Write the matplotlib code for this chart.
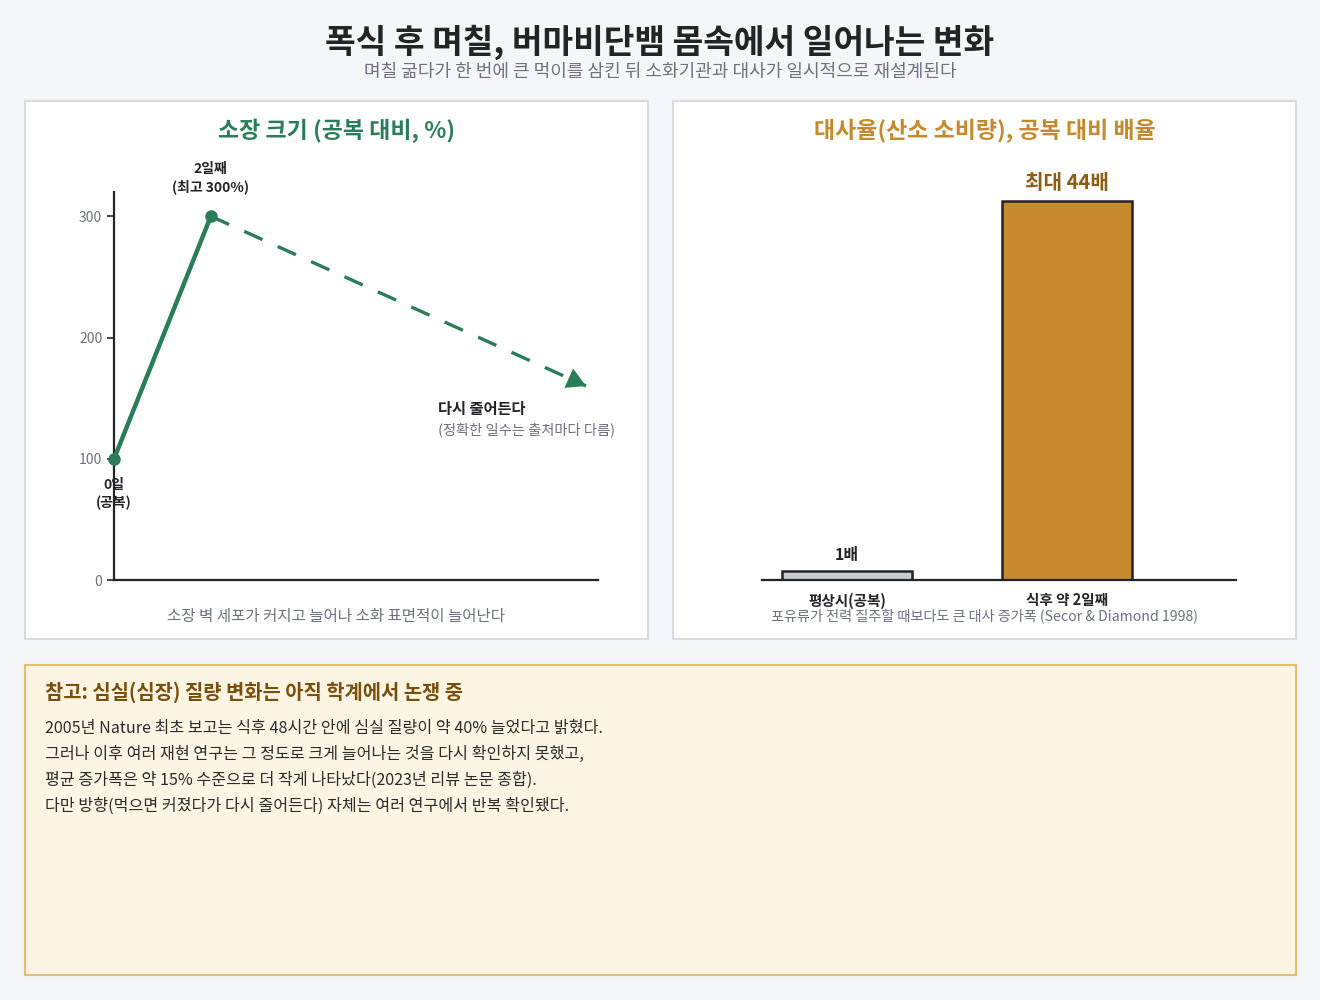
import matplotlib
matplotlib.use('Agg')
import matplotlib.pyplot as plt
from matplotlib.patches import Rectangle

plt.rcParams['font.family'] = ['Noto Sans CJK KR', 'DejaVu Sans']

# data
days = [0, 2]
size_pct = [100, 300]
shrink_days = [2, 9.75]
shrink_pct = [300, 160]
size_ticks = [0, 100, 200, 300]

metab_labels = ['평상시(공복)', '식후 약 2일째']
metab_values = [1, 44]
metab_texts = ['1배', '최대 44배']

note_title = '참고: 심실(심장) 질량 변화는 아직 학계에서 논쟁 중'
note_lines = [
    '2005년 Nature 최초 보고는 식후 48시간 안에 심실 질량이 약 40% 늘었다고 밝혔다.',
    '그러나 이후 여러 재현 연구는 그 정도로 크게 늘어나는 것을 다시 확인하지 못했고,',
    '평균 증가폭은 약 15% 수준으로 더 작게 나타났다(2023년 리뷰 논문 종합).',
    '다만 방향(먹으면 커졌다가 다시 줄어든다) 자체는 여러 연구에서 반복 확인됐다.',
]

GREEN = '#2b7d58'
GOLD = '#c48a2b'
DARK = '#222428'
GRAY = '#6b7280'
BG = '#f5f6f8'

fig = plt.figure(figsize=(13.2, 10), dpi=100, facecolor=BG)

# panel boxes (behind the axes)
fig.patches.append(Rectangle((0.0189, 0.361), 0.472, 0.538, transform=fig.transFigure,
                             facecolor='white', edgecolor='#d9dde3', lw=1.5, zorder=-1))
fig.patches.append(Rectangle((0.5098, 0.361), 0.472, 0.538, transform=fig.transFigure,
                             facecolor='white', edgecolor='#d9dde3', lw=1.5, zorder=-1))
fig.patches.append(Rectangle((0.0189, 0.025), 0.963, 0.31, transform=fig.transFigure,
                             facecolor='#fdf5e4', edgecolor='#e2bd72', lw=1.5, zorder=-1))

fig.text(0.5, 0.958, '폭식 후 며칠, 버마비단뱀 몸속에서 일어나는 변화', ha='center', va='center',
         fontsize=24, fontweight='bold', color=DARK)
fig.text(0.5, 0.928, '며칠 굶다가 한 번에 큰 먹이를 삼킨 뒤 소화기관과 대사가 일시적으로 재설계된다',
         ha='center', va='center', fontsize=13, color=GRAY)

# left: gut size
ax1 = fig.add_axes([0.0864, 0.42, 0.3667, 0.388])
ax1.set_facecolor('none')
ax1.plot(days, size_pct, color=GREEN, lw=3.2, marker='o', ms=8, clip_on=False, zorder=3)
# dashed shrink line, then a solid filled head at its end
ax1.plot(shrink_days, shrink_pct, color=GREEN, lw=2.4, ls=(0, (6, 5)), zorder=2)
ax1.annotate('', xy=(shrink_days[1], shrink_pct[1]), xytext=(shrink_days[0], shrink_pct[0]),
             arrowprops=dict(arrowstyle='-|>,head_length=0.8,head_width=0.45', color=GREEN,
                             lw=0.01, mutation_scale=17, shrinkA=0, shrinkB=0), zorder=3)
ax1.set_xlim(0, 10)
ax1.set_ylim(0, 320)
ax1.set_xticks([])
ax1.set_yticks(size_ticks)
ax1.tick_params(axis='y', labelsize=10, labelcolor=GRAY, color=DARK, length=5, width=1.2)
for s in ['top', 'right']:
    ax1.spines[s].set_visible(False)
for s in ['left', 'bottom']:
    ax1.spines[s].set_color(DARK)
    ax1.spines[s].set_linewidth(1.6)

ax1.annotate('2일째\n(최고 300%)', xy=(days[1], size_pct[1]), xytext=(0, 16),
             textcoords='offset points', ha='center', va='bottom', fontsize=10,
             fontweight='bold', color=DARK, linespacing=1.3)
ax1.annotate('0일\n(공복)', xy=(days[0], size_pct[0]), xytext=(0, -14),
             textcoords='offset points', ha='center', va='top', fontsize=10,
             fontweight='bold', color=DARK, linespacing=1.3)
ax1.text(6.7, 141, '다시 줄어든다', ha='left', va='center', fontsize=11, fontweight='bold', color=DARK)
ax1.text(6.7, 124, '(정확한 일수는 출처마다 다름)', ha='left', va='center', fontsize=10.3, color=GRAY)

fig.text(0.2549, 0.869, '소장 크기 (공복 대비, %)', ha='center', va='center',
         fontsize=16.5, fontweight='bold', color=GREEN)
fig.text(0.2549, 0.384, '소장 벽 세포가 커지고 늘어나 소화 표면적이 늘어난다', ha='center',
         va='center', fontsize=11.2, color=GRAY)

# right: metabolic rate
ax2 = fig.add_axes([0.5773, 0.42, 0.3591, 0.388])
ax2.set_facecolor('none')
xpos = list(range(len(metab_values)))
ax2.bar(xpos, metab_values, width=0.59, color=['#c8ccd4', GOLD],
        edgecolor=DARK, linewidth=1.8, zorder=2)
ax2.set_xlim(-0.386, 1.768)
ax2.set_ylim(0, 45.05)
ax2.set_yticks([])
ax2.set_xticks(xpos, metab_labels)
ax2.tick_params(axis='x', length=0, pad=9)
for lab in ax2.get_xticklabels():
    lab.set_fontweight('bold')
    lab.set_fontsize(10.5)
    lab.set_color(DARK)
for s in ['top', 'right', 'left']:
    ax2.spines[s].set_visible(False)
ax2.spines['bottom'].set_color(DARK)
ax2.spines['bottom'].set_linewidth(1.6)
ax2.annotate(metab_texts[0], xy=(xpos[0], metab_values[0]), xytext=(0, 6),
             textcoords='offset points', ha='center', va='bottom', fontsize=11.5,
             fontweight='bold', color=DARK)
ax2.annotate(metab_texts[1], xy=(xpos[1], metab_values[1]), xytext=(0, 6),
             textcoords='offset points', ha='center', va='bottom', fontsize=14.5,
             fontweight='bold', color='#8b5e14')

fig.text(0.7458, 0.869, '대사율(산소 소비량), 공복 대비 배율', ha='center', va='center',
         fontsize=16.5, fontweight='bold', color=GOLD)
fig.text(0.7458, 0.384, '포유류가 전력 질주할 때보다도 큰 대사 증가폭 (Secor & Diamond 1998)',
         ha='center', va='center', fontsize=10.2, color=GRAY)

# note box
fig.text(0.034, 0.308, note_title, ha='left', va='center', fontsize=14.3,
         fontweight='bold', color='#7a4e0c')
for i, line in enumerate(note_lines):
    fig.text(0.034, 0.271 - i * 0.0257, line, ha='left', va='center', fontsize=11.6,
             color='#2b2b2b')

fig.savefig('out.png', dpi=100, facecolor=BG)
